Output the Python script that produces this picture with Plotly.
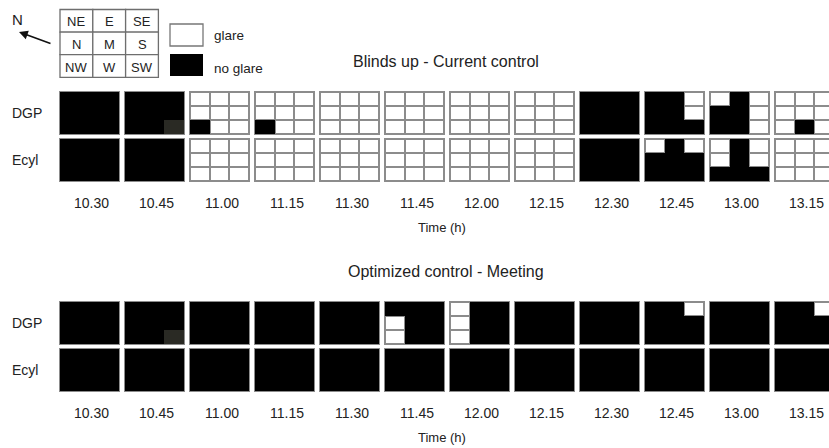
import plotly.graph_objects as go

# ---------------- data ----------------
times = ["10.30", "10.45", "11.00", "11.15", "11.30", "11.45",
         "12.00", "12.15", "12.30", "12.45", "13.00", "13.15"]
row_labels = ["DGP", "Ecyl"]
panel_titles = ["Blinds up - Current control", "Optimized control - Meeting"]
compass_labels = [["NE", "E", "SE"], ["N", "M", "S"], ["NW", "W", "SW"]]
legend_labels = ["glare", "no glare"]
axis_title = "Time (h)"

# each block: 9 cells in reading order NE E SE / N M S / NW W SW
# 1 = no glare (black), 0 = glare (white), 2 = no glare (shaded cell)
current_dgp = ["111111111", "111111112", "000000100", "000000100", "000000000", "000000000",
               "000000000", "000000000", "111111111", "110110111", "010110110", "000000010"]
current_ecyl = ["111111111", "111111111", "000000000", "000000000", "000000000", "000000000",
                "000000000", "000000000", "111111111", "010111111", "010010111", "000000000"]
meeting_dgp = ["111111111", "111111112", "111111111", "111111111", "111111111", "111011011",
               "011011011", "111111111", "111111111", "110111111", "111111111", "110111111"]
meeting_ecyl = ["111111111", "111111111", "111111111", "111111111", "111111111", "111111111",
                "111111111", "111111111", "111111111", "111111111", "111111111", "111111111"]

panels = [[current_dgp, current_ecyl], [meeting_dgp, meeting_ecyl]]

# ---------------- layout constants ----------------
W, H = 829, 448
X0, PITCH, BW = 60.0, 65.0, 59.0
CW = BW / 3.0
BH = 42.0
CH = BH / 3.0
PANEL_TOP = [92.0, 302.0]
ROW_PITCH = 47.0
TICK_DY = 22.0
FRAME = "#8c8c8c"
TXT = "#222222"
FONT = "Liberation Sans, Arial, sans-serif"
NAN = None

fig = go.Figure()
n = len(times)
starts = [X0 + i * PITCH for i in range(n)]

cell_x = []
for s in starts:
    cell_x += [s, s + CW, s + 2 * CW, s + BW]
frame_x = []
for s in starts:
    frame_x += [s - 1, s + BW + 1]

for p, rows in enumerate(panels):
    for r, blocks in enumerate(rows):
        top = PANEL_TOP[p] + r * ROW_PITCH
        ys = [top, top + CH, top + 2 * CH, top + BH]
        # frame layer
        fz = []
        for i in range(n):
            fz.append(1)
            if i < n - 1:
                fz.append(NAN)
        fig.add_trace(go.Heatmap(x=frame_x, y=[top - 1, top + BH + 1], z=[fz],
                                 colorscale=[[0, FRAME], [1, FRAME]], zmin=0, zmax=1,
                                 showscale=False, hoverinfo="skip"))
        # black layer & white layer
        bz, wz = [], []
        for gr in range(3):
            brow, wrow = [], []
            for i, code in enumerate(blocks):
                for gc in range(3):
                    v = int(code[gr * 3 + gc])
                    brow.append(v if v > 0 else NAN)
                    wrow.append(0 if v == 0 else NAN)
                if i < n - 1:
                    brow.append(NAN)
                    wrow.append(NAN)
            bz.append(brow)
            wz.append(wrow)
        fig.add_trace(go.Heatmap(x=cell_x, y=ys, z=bz,
                                 colorscale=[[0, "#000000"], [1, "#2a2a24"]], zmin=1, zmax=2,
                                 showscale=False, hoverinfo="skip"))
        fig.add_trace(go.Heatmap(x=cell_x, y=ys, z=wz, xgap=2, ygap=2,
                                 colorscale=[[0, "#ffffff"], [1, "#ffffff"]], zmin=0, zmax=1,
                                 showscale=False, hoverinfo="skip"))
        # row label
        fig.add_annotation(x=10, y=top + BH / 2, text=row_labels[r], showarrow=False,
                           xanchor="left", yanchor="middle", font=dict(size=14, color=TXT))
    # tick labels
    lab_y = PANEL_TOP[p] + ROW_PITCH + BH + TICK_DY
    for i, t in enumerate(times):
        fig.add_annotation(x=starts[i] + BW / 2 + 2, y=lab_y, text=t, showarrow=False,
                           xanchor="center", yanchor="middle", font=dict(size=14, color=TXT))
    fig.add_annotation(x=442, y=lab_y + 24, text=axis_title, showarrow=False,
                       xanchor="center", yanchor="middle", font=dict(size=13, color=TXT))
    fig.add_annotation(x=446, y=PANEL_TOP[p] - 31, text=panel_titles[p], showarrow=False,
                       xanchor="center", yanchor="middle", font=dict(size=16, color=TXT))

# ---------------- compass legend ----------------
CX0, CY0, CCW, CCH = 60.0, 9.5, 32.8, 22.6
shapes = []
for gr in range(3):
    for gc in range(3):
        x0 = CX0 + gc * CCW
        y0 = CY0 + gr * CCH
        shapes.append(dict(type="rect", x0=x0, x1=x0 + CCW, y0=y0, y1=y0 + CCH,
                           line=dict(color="#6e6e6e", width=1.3), fillcolor="white", layer="above"))
        fig.add_annotation(x=x0 + CCW / 2, y=y0 + CCH / 2 + 1, text=compass_labels[gr][gc],
                           showarrow=False, font=dict(size=13, color=TXT))
# glare legend boxes
shapes.append(dict(type="rect", x0=170, x1=203, y0=24, y1=46,
                   line=dict(color="#777777", width=1.3), fillcolor="white", layer="above"))
shapes.append(dict(type="rect", x0=170, x1=203, y0=54, y1=76,
                   line=dict(color="#000000", width=0), fillcolor="black", layer="above"))
fig.add_annotation(x=212, y=35, text=legend_labels[0], showarrow=False, xanchor="left",
                   font=dict(size=13.5, color=TXT))
fig.add_annotation(x=212, y=68, text=legend_labels[1], showarrow=False, xanchor="left",
                   font=dict(size=13.5, color=TXT))
# north arrow
fig.add_annotation(x=17, y=19, text="N", showarrow=False, font=dict(size=15, color=TXT))
fig.add_annotation(x=19, y=32, ax=52, ay=44, axref="x", ayref="y", xref="x", yref="y",
                   text="", showarrow=True, arrowhead=2, arrowsize=1.1, arrowwidth=1.6,
                   arrowcolor="#111111")

fig.update_layout(
    width=W, height=H, margin=dict(l=0, r=0, t=0, b=0),
    paper_bgcolor="white", plot_bgcolor="white",
    font=dict(family=FONT, color=TXT),
    shapes=shapes, showlegend=False,
    xaxis=dict(range=[0, W], visible=False, fixedrange=True),
    yaxis=dict(range=[H, 0], visible=False, fixedrange=True),
)
fig.write_html("out.html", config={"displayModeBar": False},
               post_script="document.body.style.margin='0';document.body.style.overflow='hidden';")
